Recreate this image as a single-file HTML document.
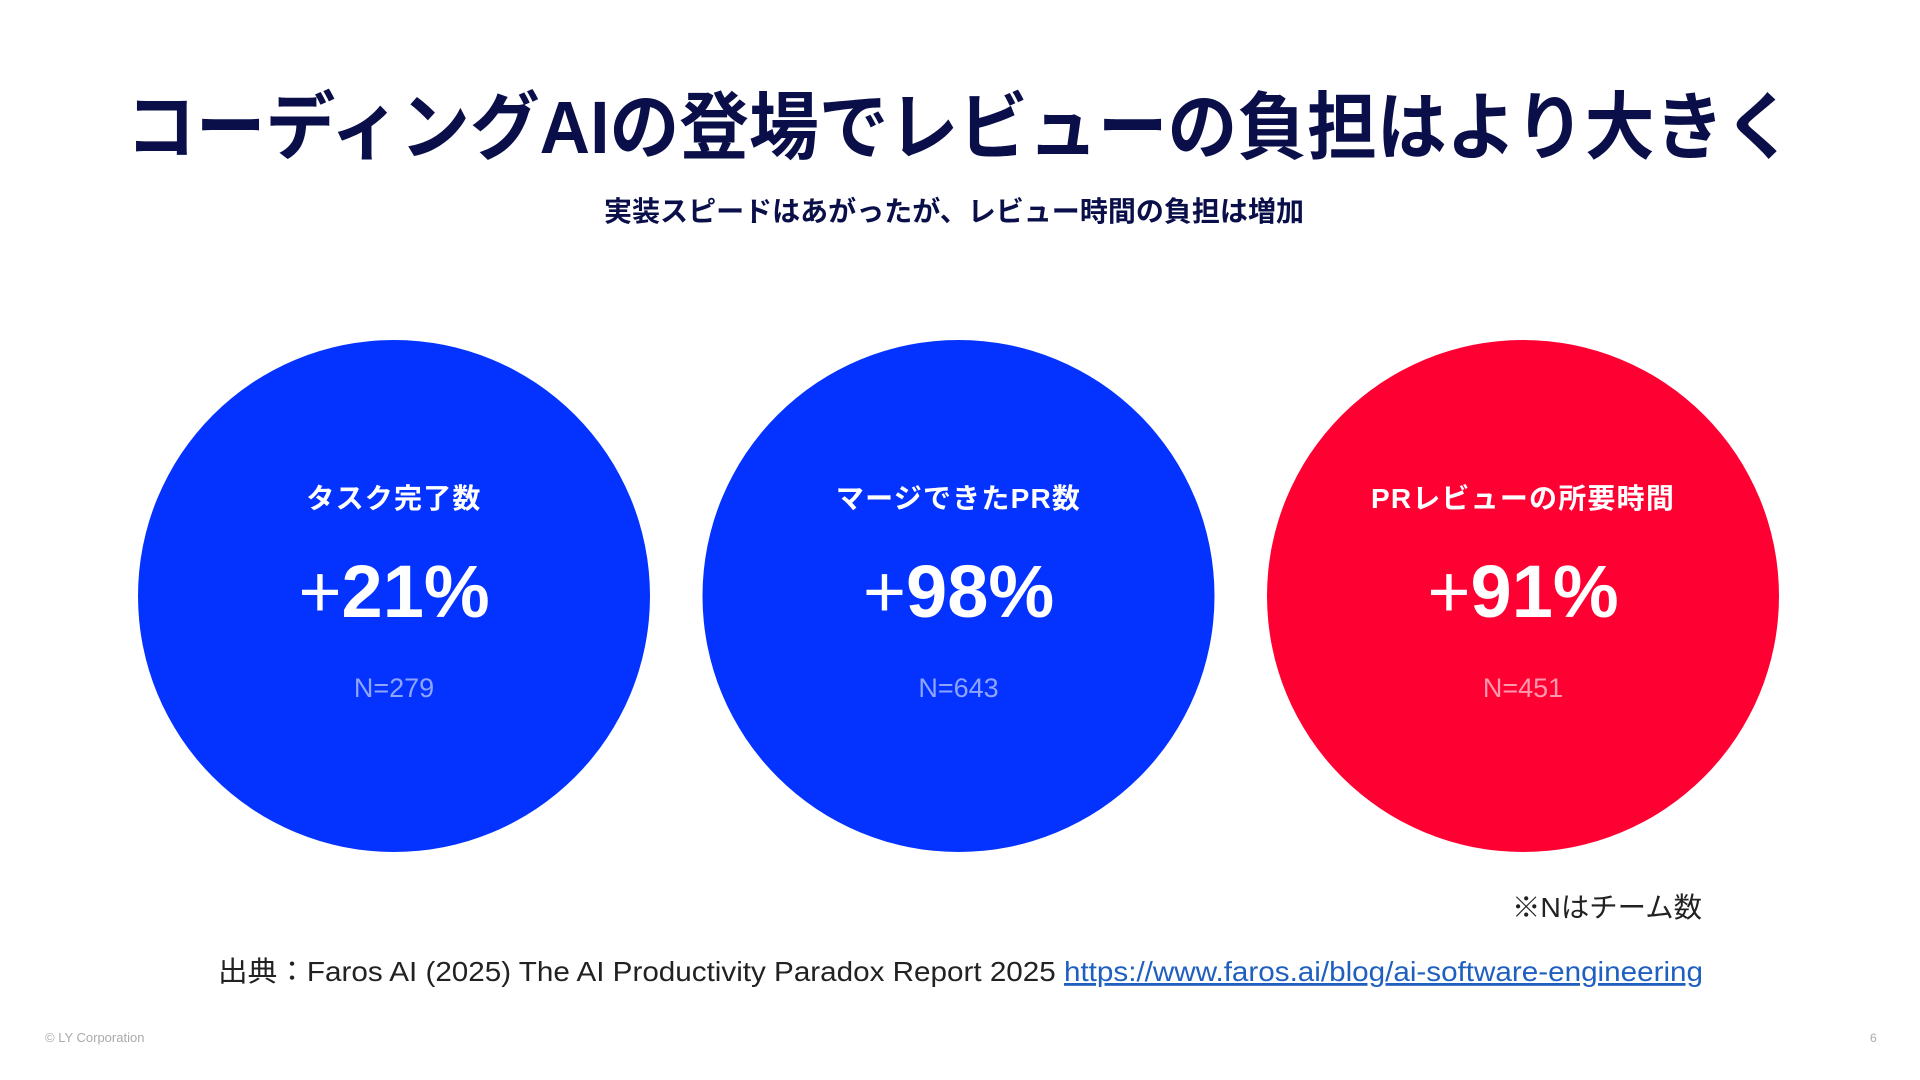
<!DOCTYPE html>
<html lang="ja"><head><meta charset="utf-8">
<style>
html,body{margin:0;padding:0;background:#fff;}
svg{display:block;}
text{font-family:"Liberation Sans","Noto Sans CJK JP",sans-serif;}
</style></head>
<body>
<svg id="chart" width="1920" height="1080" viewBox="0 0 1920 1080">
<text x="960" y="153" text-anchor="middle" font-size="74" font-weight="bold" fill="#0a0f4a" textLength="1668" lengthAdjust="spacingAndGlyphs">コーディングAIの登場でレビューの負担はより大きく</text>
<text x="954" y="221" text-anchor="middle" font-size="28" font-weight="bold" fill="#0a0f4a" textLength="700" lengthAdjust="spacingAndGlyphs">実装スピードはあがったが、レビュー時間の負担は増加</text>
<g id="circles"></g>
<text x="1702" y="917" text-anchor="end" font-size="28" fill="#222" textLength="190" lengthAdjust="spacingAndGlyphs">※Nはチーム数</text>
<text x="218" y="981" font-size="28" fill="#222" textLength="1485" lengthAdjust="spacingAndGlyphs">出典：Faros AI (2025) The AI Productivity Paradox Report 2025 <tspan fill="#1f5fbf" text-decoration="underline">https://www.faros.ai/blog/ai-software-engineering</tspan></text>
<text x="45" y="1042" font-size="13" fill="#aaa">© LY Corporation</text>
<text x="1870" y="1042" font-size="12" fill="#aaa">6</text>
</svg>
<script>
const labels = ["タスク完了数", "マージできたPR数", "PRレビューの所要時間"];
const values = [21, 98, 91];
const counts = [279, 643, 451];
const colors = ["#0433ff", "#0433ff", "#ff0033"];
const subColors = ["#8ea4ff", "#8ea4ff", "#ff99ad"];
const NS = "http://www.w3.org/2000/svg";
const g = document.getElementById('circles');
const cx0 = 394, step = 564.5, cy = 596, r = 256;
function xPos(i){ return cx0 + i*step; }
labels.forEach((lab, i) => {
  const cx = xPos(i);
  const c = document.createElementNS(NS, 'circle');
  c.setAttribute('cx', cx); c.setAttribute('cy', cy); c.setAttribute('r', r);
  c.setAttribute('fill', colors[i]);
  
  
  g.appendChild(c);
  const t1 = document.createElementNS(NS, 'text');
  t1.setAttribute('x', cx); t1.setAttribute('y', 508);
  t1.setAttribute('text-anchor', 'middle'); t1.setAttribute('font-size', '28');
  t1.setAttribute('letter-spacing', '1.2');
  t1.setAttribute('font-weight', 'bold'); t1.setAttribute('fill', '#fff');
  t1.textContent = lab;
  
  
  g.appendChild(t1);
  const t2 = document.createElementNS(NS, 'text');
  t2.setAttribute('x', cx); t2.setAttribute('y', 617);
  t2.setAttribute('text-anchor', 'middle'); t2.setAttribute('font-size', '74');
  t2.setAttribute('fill', '#fff');
  const p = document.createElementNS(NS, 'tspan');
  p.setAttribute('font-weight', 'normal'); p.textContent = '+';
  const v = document.createElementNS(NS, 'tspan');
  v.setAttribute('font-weight', 'bold'); v.textContent = values[i] + '%';
  t2.appendChild(p); t2.appendChild(v);
  
  
  g.appendChild(t2);
  const t3 = document.createElementNS(NS, 'text');
  t3.setAttribute('x', cx); t3.setAttribute('y', 697);
  t3.setAttribute('text-anchor', 'middle'); t3.setAttribute('font-size', '27');
  t3.setAttribute('fill', subColors[i]);
  t3.textContent = 'N=' + counts[i];
  
  
  g.appendChild(t3);
});
</script>
</body></html>
